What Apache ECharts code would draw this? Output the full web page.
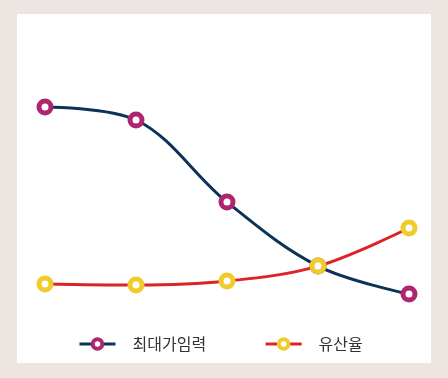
<!DOCTYPE html>
<html>
<head>
<meta charset="utf-8">
<script src="https://cdn.jsdelivr.net/npm/echarts@6/dist/echarts.min.js"></script>
<style>
html,body{margin:0;padding:0;background:#ece5e2;}
#wrap{position:absolute;left:17px;top:14px;width:414px;height:349px;background:#fff;}
#chart{position:absolute;left:0;top:0;width:448px;height:378px;}
</style>
</head>
<body>
<div id="wrap"></div>
<div id="chart"></div>
<script>
var categories=["1","2","3","4","5"];
var fertility=[90.9,85,47.7,18.6,5.9];
var miscarriage=[10.5,10,11.8,18.6,35.9];
var seriesNames=["최대가임력","유산율"];

var chart=echarts.init(document.getElementById("chart"));
var option={
  animation:false,
  grid:{left:45,right:39,top:87,bottom:71},
  xAxis:{type:'category',data:categories,boundaryGap:false,show:false},
  yAxis:{type:'value',min:0,max:100,show:false},
  legend:{
    bottom:21,
    left:73,
    itemWidth:36,
    itemHeight:12,
    itemGap:58,
    textStyle:{fontSize:16,color:'#333',fontFamily:'Noto Sans CJK KR',padding:[0,0,0,12]},
    data:[
      {name:seriesNames[0],itemStyle:{color:'#fff',borderColor:'#ae2570',borderWidth:4},lineStyle:{width:3}},
      {name:seriesNames[1],itemStyle:{color:'#fff',borderColor:'#f0cb2c',borderWidth:4},lineStyle:{width:3}}
    ]
  },
  series:[
    {
      name:seriesNames[0],
      type:'line',
      smooth:0.35,
      data:fertility,
      symbol:'circle',
      symbolSize:12,
      lineStyle:{color:'#0b3358',width:3},
      itemStyle:{color:'#fff',borderColor:'#ae2570',borderWidth:5},
      z:2
    },
    {
      name:seriesNames[1],
      type:'line',
      smooth:0.35,
      data:miscarriage,
      symbol:'circle',
      symbolSize:12,
      lineStyle:{color:'#dc2428',width:3},
      itemStyle:{color:'#fff',borderColor:'#f0cb2c',borderWidth:5},
      z:3
    }
  ]
};
chart.setOption(option);
</script>
</body>
</html>
